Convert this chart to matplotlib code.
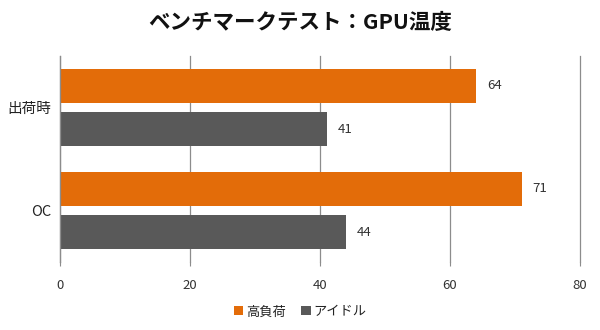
import matplotlib.pyplot as plt
import numpy as np

plt.rcParams['font.family'] = ['Noto Sans CJK JP', 'DejaVu Sans']

categories = ['出荷時', 'OC']
high_load = [64, 71]
idle = [41, 44]
series_names = ['高負荷', 'アイドル']
x_ticks = [0, 20, 40, 60, 80]

orange = '#E36C09'
gray = '#595959'
grid_color = '#8C8C8C'
text_color = '#333333'

fig = plt.figure(figsize=(6, 3.3), dpi=100)
ax = fig.add_axes([0.1, 0.206, 0.8667, 0.624])

y = np.arange(len(categories))
h = 0.33
off = 0.21
b1 = ax.barh(y - off, high_load, height=h, color=orange, label=series_names[0], zorder=3)
b2 = ax.barh(y + off, idle, height=h, color=gray, label=series_names[1], zorder=3)

for bars in (b1, b2):
    ax.bar_label(bars, padding=8, fontsize=9.5, color=text_color)

ax.set_xlim(0, 80)
ax.set_ylim(1.5, -0.5)
ax.set_xticks(x_ticks)
ax.set_yticks(y)
ax.set_yticklabels(categories, fontsize=10.5, color='#222222')
ax.tick_params(axis='y', length=0, pad=6)
ax.tick_params(axis='x', length=3, color=grid_color, labelsize=9.5, labelcolor=text_color, pad=9)
ax.grid(axis='x', color=grid_color, linewidth=0.9, zorder=0)
for line in ax.get_xgridlines():
    line.set_clip_on(False)

for s in ['top', 'right', 'bottom']:
    ax.spines[s].set_visible(False)
ax.spines['left'].set_color(grid_color)
ax.spines['left'].set_linewidth(0.9)
ax.spines['left'].set_zorder(4)

fig.suptitle('ベンチマークテスト：GPU温度', x=0.5, y=0.965, fontsize=15.5,
             fontweight='bold', color='#111111')

fig.legend(handles=[b1, b2], loc='center', bbox_to_anchor=(0.5, 0.055), ncol=2,
           frameon=False, fontsize=9.5, handlelength=0.7, handleheight=0.7,
           handletextpad=0.2, columnspacing=1.2, labelcolor='#222222')

fig.savefig('out.png', dpi=100)
